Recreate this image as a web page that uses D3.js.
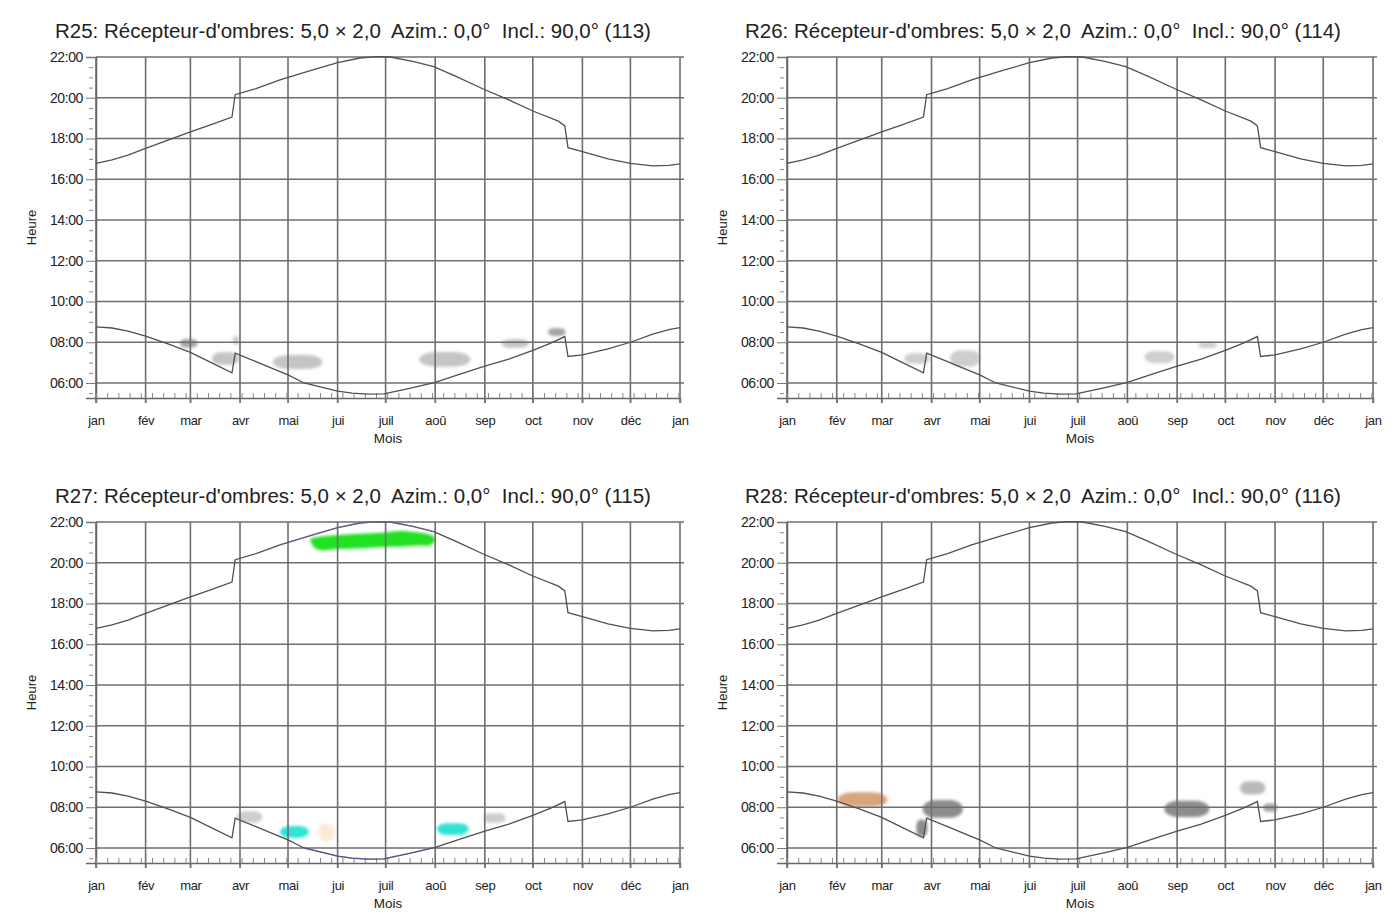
<!DOCTYPE html>
<html><head><meta charset="utf-8">
<script src="https://cdn.jsdelivr.net/npm/d3@7"></script>
<style>body{margin:0;background:#fff} svg{display:block} text{font-family:"Liberation Sans",Arial,sans-serif;fill:#222}</style>
</head><body><svg id="c" width="1399" height="923"></svg>
<script>
// ---- data ----
const monthLabels = ["jan","fév","mar","avr","mai","jui","juil","aoû","sep","oct","nov","déc","jan"];
const monthStartDays = [0,31,59,90,120,151,181,212,243,273,304,334,365];
const hourTicks = [6,8,10,12,14,16,18,20,22];
const minorHourTicks = [5.5,6.5,7,7.5,8.5,9,9.5,10.5,11,11.5,12.5,13,13.5,14.5,15,15.5,16.5,17,17.5,18.5,19,19.5,20.5,21,21.5];
const weekTicks = d3.range(0, 366, 7);
const panelTitles = [
  "R25: Récepteur-d'ombres: 5,0 × 2,0  Azim.: 0,0°  Incl.: 90,0° (113)",
  "R26: Récepteur-d'ombres: 5,0 × 2,0  Azim.: 0,0°  Incl.: 90,0° (114)",
  "R27: Récepteur-d'ombres: 5,0 × 2,0  Azim.: 0,0°  Incl.: 90,0° (115)",
  "R28: Récepteur-d'ombres: 5,0 × 2,0  Azim.: 0,0°  Incl.: 90,0° (116)"
];
// sunset (coucher) – day of year / hour
const sunsetDays  = [0,10,20,31,45,59,72,85,87,100,115,135,151,165,175,184,198,211,225,242,258,273,289,293,295,304,320,334,348,358,365];
const sunsetHours = [16.78,16.95,17.18,17.52,17.92,18.32,18.68,19.05,20.15,20.45,20.88,21.35,21.72,21.95,22.02,22.0,21.78,21.53,21.05,20.43,19.9,19.35,18.85,18.62,17.55,17.35,17.0,16.78,16.66,16.68,16.75];
// sunrise (lever)
const sunriseDays  = [0,10,20,31,45,59,72,85,87,100,109,120,130,151,160,170,180,185,196,212,228,243,258,273,285,293,295,304,320,334,348,358,365];
const sunriseHours = [8.75,8.7,8.55,8.3,7.92,7.5,7.0,6.5,7.47,7.05,6.75,6.4,6.0,5.6,5.5,5.45,5.47,5.55,5.74,6.03,6.45,6.83,7.17,7.6,7.98,8.28,7.3,7.38,7.68,8.0,8.4,8.62,8.72];
// shadow areas per panel: [centre day, centre hour, width (days), height (hours), kind]
const shadowsR25 = [
  [58,7.95,11,0.42,"grisFonce"],[87.5,8.1,4,0.42,"grisClair"],[81,7.2,17,0.62,"gris"],
  [126,7.03,31,0.68,"gris"],[218,7.16,32,0.72,"gris"],[262,7.94,17,0.42,"gris"],[288,8.5,11,0.38,"grisFonce"]
];
const shadowsR26 = [
  [81,7.2,16,0.52,"grisClair"],[111,7.2,19,0.8,"grisClair"],[232,7.27,19,0.58,"grisClair"],[262,7.86,12,0.28,"grisClair"]
];
const shadowsR27 = [
  [124,6.79,18,0.58,"cyan"],[223,6.93,20,0.58,"cyan"],
  [96,7.52,16,0.56,"grisClair"],[249,7.47,14,0.48,"grisClair"],[144,6.75,10,0.85,"orangePale"]
];
// green shadow outline (day, hour)
const greenOutlineDays  = [134,140,152,165,178,190,200,207,212,210,200,185,170,152,138];
const greenOutlineHours = [21.15,21.28,21.36,21.42,21.47,21.56,21.5,21.42,21.2,20.9,20.84,20.78,20.73,20.68,20.66];
const shadowsR28 = [
  [47,8.38,31,0.72,"tan"],[97,7.92,25,0.88,"grisMoyen"],[84,6.98,7,0.82,"grisMoyen"],
  [249,7.92,28,0.8,"grisMoyen"],[290,8.95,16,0.65,"grisClair2"],[301,7.98,9,0.4,"grisFonce"]
];
const shadowColors = {gris:"#c4c4c4",grisClair:"#cecece",grisClair2:"#bababa",grisFonce:"#a4a4a4",grisMoyen:"#8c8c8c",
  vert:"#22e022",cyan:"#2fe3d6",orangePale:"#fcebd3",tan:"#daa57e"};

// ---- layout ----
const panels = [
  {x0:96,x1:680,top:57,title:panelTitles[0],tx:55,ty:38,shadows:shadowsR25,green:false,tint:false},
  {x0:787,x1:1373,top:57,title:panelTitles[1],tx:745,ty:38,shadows:shadowsR26,green:false,tint:false},
  {x0:96,x1:680,top:522,title:panelTitles[2],tx:55,ty:503,shadows:shadowsR27,green:true,tint:true},
  {x0:787,x1:1373,top:522,title:panelTitles[3],tx:745,ty:503,shadows:shadowsR28,green:false,tint:false}
];
const plotH = 341;
const pxPerHour = 20.375;
const svg = d3.select("#c");
const defs = svg.append("defs");
defs.append("filter").attr("id","blur").attr("x","-30%").attr("y","-30%").attr("width","160%").attr("height","160%")
  .append("feGaussianBlur").attr("stdDeviation",1.4);

const fmtH = h => (h<10?"0":"")+h+":00";

panels.forEach(p => {
  const x = d3.scaleLinear().domain([0,365]).range([p.x0,p.x1]);
  const y = d3.scaleLinear().domain([22-plotH/pxPerHour,22]).range([p.top+plotH,p.top]);
  const g = svg.append("g");
  const bottom = p.top+plotH;

  // shadows
  const sg = g.append("g").attr("filter","url(#blur)");
  sg.selectAll("rect").data(p.shadows).join("rect")
    .attr("x",d=>x(d[0]-d[2]/2)).attr("y",d=>y(d[1]+d[3]/2))
    .attr("width",d=>x(d[2])-x(0)).attr("height",d=>y(0)-y(d[3]))
    .attr("rx",d=>(x(d[2])-x(0))*0.32).attr("ry",d=>(y(0)-y(d[3]))*0.5)
    .attr("fill",d=>shadowColors[d[4]]);
  if (p.green) {
    const pts = greenOutlineDays.map((d,i)=>[d,greenOutlineHours[i]]);
    sg.append("path").attr("d",d3.line().x(d=>x(d[0])).y(d=>y(d[1])).curve(d3.curveCatmullRomClosed)(pts))
      .attr("fill",shadowColors.vert);
  }

  // grid
  g.append("g").selectAll("line").data(hourTicks).join("line")
    .attr("x1",p.x0).attr("x2",p.x1+4).attr("y1",d=>y(d)).attr("y2",d=>y(d))
    .attr("stroke","#6e6e6e").attr("stroke-width",1.6);
  g.append("g").selectAll("line").data(monthStartDays).join("line")
    .attr("x1",d=>x(d)).attr("x2",d=>x(d)).attr("y1",p.top).attr("y2",bottom+5)
    .attr("stroke","#6e6e6e").attr("stroke-width",1.6);

  // y axis
  const ya = g.append("g").attr("transform",`translate(${p.x0},0)`)
    .call(d3.axisLeft(y).tickValues(hourTicks).tickFormat(fmtH).tickSize(10).tickPadding(3));
  ya.select(".domain").attr("stroke","#666").attr("stroke-width",1.5);
  ya.selectAll(".tick line").attr("stroke","#777");
  ya.selectAll("text").attr("font-size",14).attr("letter-spacing",-0.4).attr("fill","#222")
    .attr("font-family","'Liberation Sans',Arial,sans-serif");
  const ym = g.append("g").attr("transform",`translate(${p.x0-3},0)`)
    .call(d3.axisLeft(y).tickValues(minorHourTicks).tickFormat("").tickSize(4));
  ym.select(".domain").remove(); ym.selectAll("line").attr("stroke","#888");

  // x axis
  const xa = g.append("g").attr("transform",`translate(0,${bottom})`)
    .call(d3.axisBottom(x).tickValues(monthStartDays).tickFormat((d,i)=>monthLabels[i]).tickSize(5).tickPadding(13));
  xa.select(".domain").attr("stroke","#666").attr("stroke-width",1.5);
  xa.selectAll(".tick line").attr("stroke","#777");
  xa.selectAll("text").attr("font-size",13).attr("letter-spacing",-0.3).attr("fill","#222")
    .attr("font-family","'Liberation Sans',Arial,sans-serif");
  const xm = g.append("g").attr("transform",`translate(0,${bottom})`)
    .call(d3.axisBottom(x).tickValues(weekTicks).tickFormat("").tickSize(-5));
  xm.select(".domain").remove(); xm.selectAll("line").attr("stroke","#888");

  // curves
  const line = d3.line().x(d=>x(d[0])).y(d=>y(d[1]));
  const ss = sunsetDays.map((d,i)=>[d,sunsetHours[i]]);
  const sr = sunriseDays.map((d,i)=>[d,sunriseHours[i]]);
  g.append("path").attr("d",line(ss)).attr("fill","none").attr("stroke","#505050").attr("stroke-width",1.3);
  g.append("path").attr("d",line(sr)).attr("fill","none").attr("stroke","#505050").attr("stroke-width",1.3);
  if (p.tint) {
    g.append("path").attr("d",line(ss.filter(d=>d[0]>=115&&d[0]<=211))).attr("fill","none")
      .attr("stroke","#8a6aa8").attr("stroke-width",1.3).attr("opacity",0.5);
    g.append("path").attr("d",line(sr.filter(d=>d[0]>=130&&d[0]<=212))).attr("fill","none")
      .attr("stroke","#5a5ab8").attr("stroke-width",1.3).attr("opacity",0.5);
  }

  // labels
  g.append("text").attr("x",p.tx).attr("y",p.ty).attr("font-size",20.5).style("white-space","pre")
    .attr("xml:space","preserve").text(p.title);
  g.append("text").attr("transform",`translate(${p.x0-60},${(p.top+bottom)/2}) rotate(-90)`)
    .attr("text-anchor","middle").attr("font-size",13).text("Heure");
  g.append("text").attr("x",(p.x0+p.x1)/2).attr("y",bottom+45).attr("text-anchor","middle")
    .attr("font-size",13.5).text("Mois");
});
</script></body></html>
